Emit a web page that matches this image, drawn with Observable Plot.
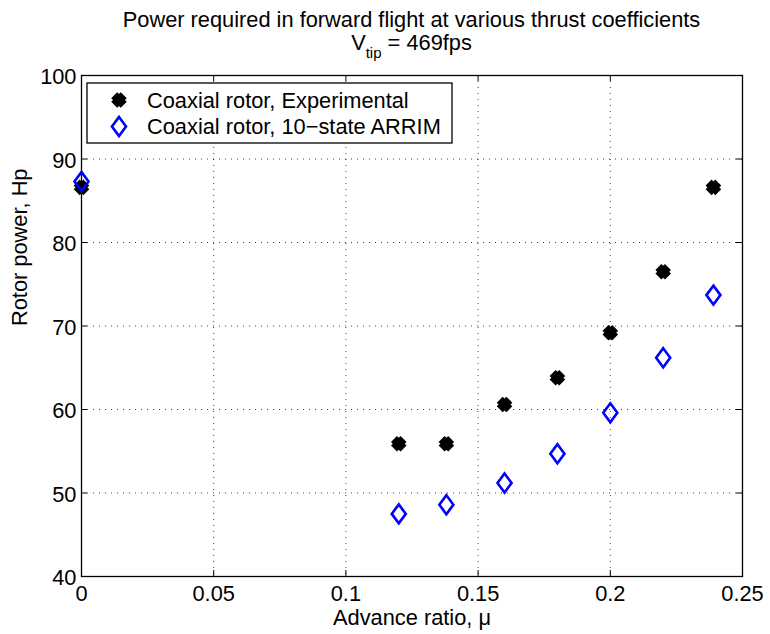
<!DOCTYPE html>
<html><head><meta charset="utf-8">
<script src="https://cdn.jsdelivr.net/npm/d3@7"></script>
<script src="https://cdn.jsdelivr.net/npm/@observablehq/plot@0.6"></script>
<style>
body{margin:0;background:#fff;}
#wrap{position:relative;width:770px;height:634px;}
</style></head><body><div id="wrap"></div>
<script>
const muExp = [0, 0.12, 0.138, 0.16, 0.18, 0.2, 0.22, 0.239];
const powerExp = [86.6, 55.9, 55.9, 60.6, 63.8, 69.2, 76.5, 86.6];
const muArrim = [0, 0.12, 0.138, 0.16, 0.18, 0.2, 0.22, 0.239];
const powerArrim = [87.3, 47.5, 48.6, 51.2, 54.7, 59.6, 66.2, 73.7];
const xTicks = [0, 0.05, 0.1, 0.15, 0.2, 0.25];
const yTicks = [40, 50, 60, 70, 80, 90, 100];
const xTickLabels = ["0", "0.05", "0.1", "0.15", "0.2", "0.25"];
const seriesNames = ["Coaxial rotor, Experimental", "Coaxial rotor, 10\u2212state ARRIM"];
const titleLine1 = "Power required in forward flight at various thrust coefficients";
const xLabel = "Advance ratio, \u03bc";
const yLabel = "Rotor power, Hp";

const FONT = "'Liberation Sans', Arial, Helvetica, sans-serif";
const FS = 21.8;

const expData = muExp.map((m, i) => ({mu: m, p: powerExp[i]}));
const arrData = muArrim.map((m, i) => ({mu: m, p: powerArrim[i]}));

// custom marker shapes
const fatX = {draw(ctx, size) {
  const r = Math.sqrt(size / Math.PI), e = r, t = r * 0.62, c = Math.SQRT1_2;
  const pts = [[t,e],[-t,e],[-t,t],[-e,t],[-e,-t],[-t,-t],[-t,-e],[t,-e],[t,-t],[e,-t],[e,t],[t,t]];
  pts.forEach(([x, y], i) => { const X = (x - y) * c, Y = (x + y) * c; i ? ctx.lineTo(X, Y) : ctx.moveTo(X, Y); });
  ctx.closePath();
}};
const tallDiamond = {draw(ctx, size) {
  const r = Math.sqrt(size / Math.PI), h = r, w = r * 0.74;
  ctx.moveTo(0, -h); ctx.lineTo(w, 0); ctx.lineTo(0, h); ctx.lineTo(-w, 0); ctx.closePath();
}};

const W = 770, H = 634, mL = 81, mR = 28, mT = 75, mB = 58;
const fw = W - mL - mR, fh = H - mT - mB;
const T = 6;

const plot = Plot.plot({
  width: W, height: H,
  marginLeft: mL, marginRight: mR, marginTop: mT, marginBottom: mB,
  style: {fontFamily: FONT, fontSize: FS + "px", color: "#000", background: "#fff", overflow: "visible"},
  x: {domain: [0, 0.25], ticks: xTicks},
  y: {domain: [40, 100], ticks: yTicks},
  marks: [
    Plot.ruleX(xTicks.slice(1, -1), {x: d => d, stroke: "#000", strokeOpacity: 0.75, strokeDasharray: "1,5"}),
    Plot.ruleY(yTicks.slice(1, -1), {y: d => d, stroke: "#000", strokeOpacity: 0.75, strokeDasharray: "1,5"}),
    Plot.tickX(xTicks, {x: d => d, insetTop: fh - T, stroke: "#000"}),
    Plot.tickX(xTicks, {x: d => d, insetBottom: fh - T, stroke: "#000"}),
    Plot.tickY(yTicks, {y: d => d, insetRight: fw - T, stroke: "#000"}),
    Plot.tickY(yTicks, {y: d => d, insetLeft: fw - T, stroke: "#000"}),
    Plot.axisX(xTicks, {tickSize: 0, tickPadding: 9, tickFormat: (d, i) => xTickLabels[i], label: null, fontSize: FS}),
    Plot.axisY(yTicks, {tickSize: 0, tickPadding: 5, dy: 2, label: null, fontSize: FS}),
    Plot.frame({stroke: "#000", strokeWidth: 1.3}),
    Plot.text([xLabel], {frameAnchor: "bottom", lineAnchor: "middle", dy: 42, text: d => d, fontSize: FS}),
    Plot.text([yLabel], {frameAnchor: "left", lineAnchor: "middle", dx: -61, rotate: -90, text: d => d, fontSize: FS}),
    Plot.dot(expData, {x: "mu", y: "p", symbol: fatX, r: 6.8, fill: "#000", stroke: "none"}),
    Plot.dot(arrData, {x: "mu", y: "p", symbol: tallDiamond, r: 9.5, fill: "none", stroke: "#0000ff", strokeWidth: 2.6})
  ]
});

const svg = d3.select(plot);
const cx = mL + fw / 2;
svg.append("text").attr("x", cx).attr("y", 27).attr("text-anchor", "middle")
  .attr("font-size", FS).attr("font-family", FONT).text(titleLine1);
const t2 = svg.append("text").attr("x", cx).attr("y", 50).attr("text-anchor", "middle")
  .attr("font-size", FS).attr("font-family", FONT);
t2.append("tspan").text("V");
t2.append("tspan").attr("font-size", 15).attr("dy", 8).text("tip");
t2.append("tspan").attr("dy", -8).text(" = 469fps");

// legend
const lg = svg.append("g");
lg.append("rect").attr("x", 87).attr("y", 83).attr("width", 365).attr("height", 60)
  .attr("fill", "#fff").attr("stroke", "#000").attr("stroke-width", 1.3);
const rows = [
  {y: 100, sym: fatX, r: 6.8, fill: "#000", stroke: "none", sw: 0},
  {y: 126.5, sym: tallDiamond, r: 9.5, fill: "none", stroke: "#0000ff", sw: 2.6}
];
rows.forEach((row, i) => {
  lg.append("path").attr("transform", `translate(119,${row.y})`)
    .attr("d", d3.symbol(row.sym, Math.PI * row.r * row.r)())
    .attr("fill", row.fill).attr("stroke", row.stroke).attr("stroke-width", row.sw);
  lg.append("text").attr("x", 147).attr("y", row.y).attr("dy", "0.35em")
    .attr("text-anchor", "start")
    .attr("font-size", FS).attr("font-family", FONT).text(seriesNames[i]);
});

document.getElementById("wrap").appendChild(plot);
</script>
</body></html>
